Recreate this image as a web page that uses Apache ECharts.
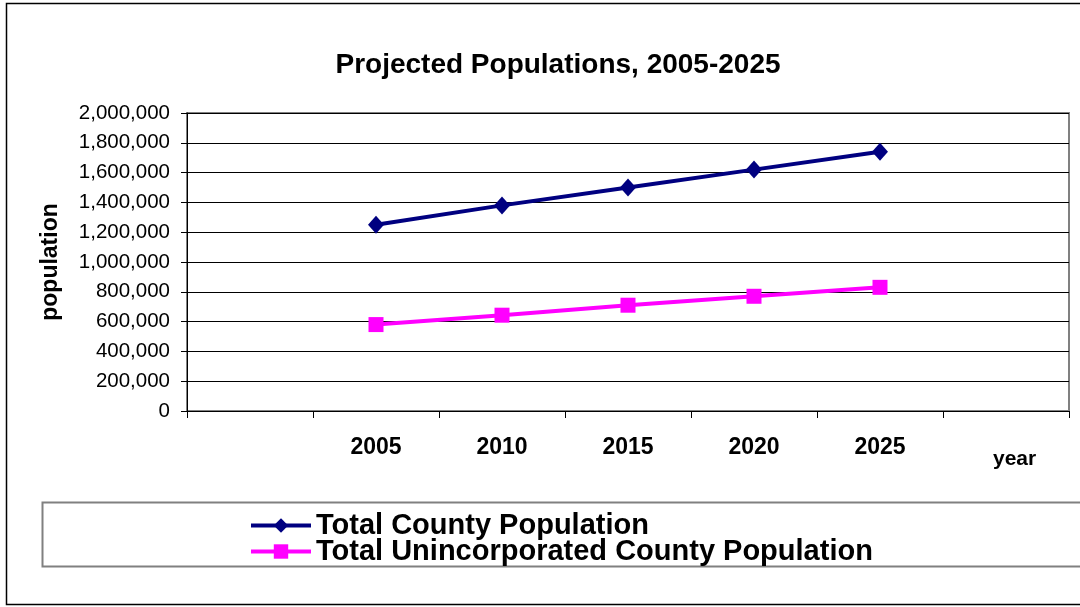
<!DOCTYPE html>
<html>
<head>
<meta charset="utf-8">
<script src="https://cdn.jsdelivr.net/npm/echarts@6/dist/echarts.min.js"></script>
<style>
html,body{margin:0;padding:0;background:#fff;}
#chart{width:1080px;height:607px;}
</style>
</head>
<body>
<div id="chart"></div>
<script>
const categories = ['', '2005', '2010', '2015', '2020', '2025', ''];
const totalCounty = [null, 1250000, 1380000, 1500000, 1620000, 1740000, null];
const unincorporated = [null, 580000, 643000, 710000, 770000, 830000, null];
const seriesNames = ['Total County Population', 'Total Unincorporated County Population'];
const titleText = 'Projected Populations, 2005-2025';
const yName = 'population';
const xName = 'year';

const FONT = '"Liberation Sans", Arial, sans-serif';
const chart = echarts.init(document.getElementById('chart'));
chart.setOption({
  backgroundColor: '#ffffff',
  animation: false,
  title: {
    text: titleText,
    left: 553,
    textAlign: 'center',
    top: 46,
    textStyle: { fontFamily: FONT, fontSize: 28, fontWeight: 'bold', color: '#000' }
  },
  grid: {
    left: 187, right: 11, top: 113, bottom: 196,
    show: true, borderColor: '#808080', borderWidth: 2, backgroundColor: 'transparent'
  },
  legend: {
    orient: 'vertical',
    left: 244,
    top: 506,
    itemWidth: 60,
    itemHeight: 18,
    itemGap: -3,
    lineStyle: { width: 4 },
    textStyle: { fontFamily: FONT, fontSize: 29, fontWeight: 'bold', color: '#000', lineHeight: 26 },
    data: seriesNames
  },
  xAxis: {
    type: 'category',
    data: categories,
    boundaryGap: true,
    name: xName,
    nameLocation: 'end',
    nameGap: -76,
    nameTextStyle: { fontFamily: FONT, fontSize: 21, fontWeight: 'bold', color: '#000', verticalAlign: 'top', padding: [38, 0, 0, 0] },
    axisLine: { lineStyle: { color: '#000', width: 1 } },
    axisTick: { show: true, interval: 0, length: 7, lineStyle: { color: '#000' } },
    axisLabel: { interval: 0, margin: 25, fontFamily: FONT, fontSize: 23, fontWeight: 'bold', color: '#000' },
    splitLine: { show: false }
  },
  yAxis: {
    type: 'value',
    min: 0, max: 2000000, interval: 200000,
    name: yName,
    nameLocation: 'middle',
    nameGap: 125,
    nameTextStyle: { fontFamily: FONT, fontSize: 23, fontWeight: 'bold', color: '#000' },
    axisLine: { show: true, lineStyle: { color: '#000', width: 1 } },
    axisTick: { show: true, length: 6, lineStyle: { color: '#000' } },
    axisLabel: {
      margin: 17, fontFamily: FONT, fontSize: 20.5, color: '#000',
      formatter: v => v.toLocaleString('en-US')
    },
    splitLine: { show: true, lineStyle: { color: '#000', width: 1 } }
  },
  series: [
    {
      name: seriesNames[0], type: 'line', data: totalCounty,
      symbol: 'diamond', symbolSize: [16, 18],
      lineStyle: { color: '#000080', width: 4 },
      itemStyle: { color: '#000080' },
      connectNulls: false, z: 3
    },
    {
      name: seriesNames[1], type: 'line', data: unincorporated,
      symbol: 'rect', symbolSize: [15, 15],
      lineStyle: { color: '#ff00ff', width: 4 },
      itemStyle: { color: '#ff00ff' },
      connectNulls: false, z: 3
    }
  ],
  graphic: [
    { type: 'rect', shape: { x: 6.5, y: 3.5, width: 1090, height: 601 }, style: { fill: 'none', stroke: '#000', lineWidth: 1.5 }, silent: true, z: -1 },
    { type: 'rect', shape: { x: 42.5, y: 502.5, width: 1060, height: 64 }, style: { fill: 'none', stroke: '#808080', lineWidth: 2 }, silent: true, z: -1 }
  ]
});
</script>
</body>
</html>
